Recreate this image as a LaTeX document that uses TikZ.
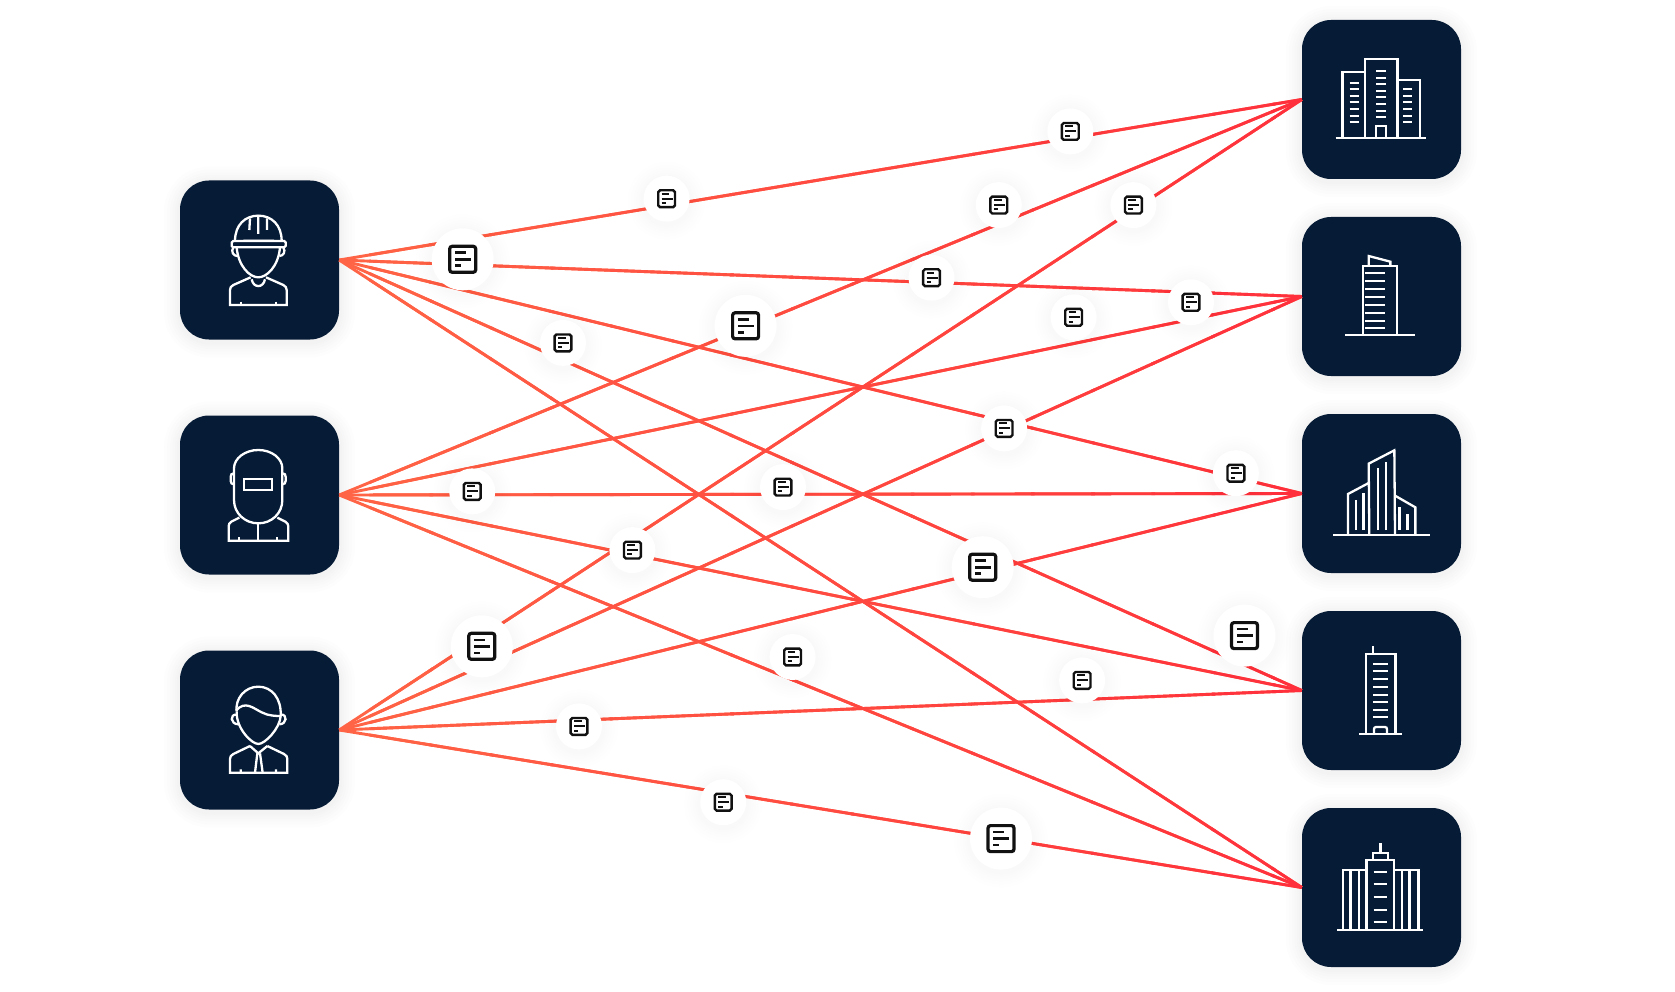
\documentclass[tikz,border=0pt]{standalone}
\usetikzlibrary{calc}
\definecolor{navy}{RGB}{5,27,54}
\definecolor{linkred}{RGB}{255,48,60}
\definecolor{linkorange}{RGB}{255,100,70}
\definecolor{docblack}{RGB}{17,17,17}
\tikzset{
  x=1pt,y=-1pt,
  halo/.style={preaction={draw=black,draw opacity=#1,line width=32pt,transform canvas={yshift=-2pt}},
    preaction={draw=black,draw opacity=#1,line width=26pt,transform canvas={yshift=-2pt}},
    preaction={draw=black,draw opacity=#1,line width=20pt,transform canvas={yshift=-2pt}},
    preaction={draw=black,draw opacity=#1,line width=15pt,transform canvas={yshift=-2pt}},
    preaction={draw=black,draw opacity=#1,line width=10pt,transform canvas={yshift=-2pt}},
    preaction={draw=black,draw opacity=#1,line width=6pt,transform canvas={yshift=-2pt}}},
  tile/.style={fill=navy,minimum size=159pt,inner sep=0pt,rounded corners=29pt,halo=0.007},
  badgebig/.style={circle,fill=white,minimum size=62pt,inner sep=0pt,halo=0.004},
  badgesmall/.style={circle,fill=white,minimum size=46pt,inner sep=0pt,halo=0.004},
  link/.style={line width=2.9pt},
  ico/.style={white,line width=2.3pt,line join=miter},
  zoomed/.style={scale=0.33333},
  bigdoc/.pic={
    \draw[docblack,line width=3.2pt,rounded corners=2.5pt] (-13,-13) rectangle (13,13);
    \draw[docblack,line width=2.6pt] (-7.7,-6.5) -- (3,-6.5) (-7.7,0) -- (8,0) (-7.7,6.5) -- (-1.7,6.5);
  },
  smalldoc/.pic={
    \draw[docblack,line width=2.4pt,rounded corners=1.8pt] (-8.4,-8.4) rectangle (8.4,8.4);
    \draw[docblack,line width=2pt] (-5,-5) -- (2.7,-5) (-5,0) -- (6,0) (-5,4.3) -- (-0.7,4.3);
  },
}
\newcommand{\alllinks}{%
  \foreach \a/\b in {la/ra,la/rb,la/rc,la/rd,la/re,lb/ra,lb/rb,lb/rc,lb/rd,lb/re,lc/ra,lc/rb,lc/rc,lc/rd,lc/re}{%
    \draw[link,draw=linkorange] (\a.east) -- (\b.west);
  }%
  \foreach \k in {1,...,16}{%
    \pgfmathsetmacro{\mixpct}{\k*100/16}%
    \pgfmathsetmacro{\fromt}{(\k-0.5)/16}%
    \pgfmathsetmacro{\tot}{min(1,(\k+0.56)/16)}%
    \foreach \a/\b in {la/ra,la/rb,la/rc,la/rd,la/re,lb/ra,lb/rb,lb/rc,lb/rd,lb/re,lc/ra,lc/rb,lc/rc,lc/rd,lc/re}{%
      \draw[link,draw=linkred!\mixpct!linkorange] ($(\a.east)!\fromt!(\b.west)$) -- ($(\a.east)!\tot!(\b.west)$);
    }%
  }%
}
\begin{document}
\begin{tikzpicture}
\useasboundingbox (0,0) rectangle (1675,992);
\fill[white] (0,0) rectangle (1675,992);
% tiles
\node[tile] (la) at (259.5,260) {};
\node[tile] (lb) at (259.5,495) {};
\node[tile] (lc) at (259.5,730) {};
\node[tile] (ra) at (1381.5,99.5) {};
\node[tile] (rb) at (1381.5,296.5) {};
\node[tile] (rc) at (1381.5,493.5) {};
\node[tile] (rd) at (1381.5,690.5) {};
\node[tile] (re) at (1381.5,887.5) {};
% connectors
\alllinks
% badges
\foreach \n/\p in {bi/{462.7,259.3},bii/{745.6,325.8},biii/{481.8,646.3},biv/{982.7,567.2},bv/{1244.5,635.6},bvi/{1001,838.6}}{
  \node[badgebig] (\n) at (\p) {};
  \pic at (\n) {bigdoc};
}
\foreach \n/\p in {sa/{1070.3,131.4},sb/{666.6,198.7},sc/{998.8,205.1},sd/{1133.4,205.1},se/{931.5,277.7},sf/{1191,302.3},sg/{1073.6,317.3},sh/{563,342.9},si/{1004.1,428.4},sj/{1235.9,473.2},sk/{472.2,491.4},sl/{783,487.1},sm/{632.4,550.1},sn/{792.6,657},so/{1082.1,680.4},sp/{579,726.4},sq/{723.2,802.2}}{
  \node[badgesmall] (\n) at (\p) {};
  \pic at (\n) {smalldoc};
}
% worker
\begin{scope}[shift={(170,170)},zoomed,ico]
\draw (195,213) .. controls (195,165) and (225,137) .. (265,137) .. controls (305,137) and (335,165) .. (335,213);
\draw[rounded corners=1.5pt] (185,213) rectangle (347,232);
\draw (220,212) -- (312,212) (265,135) -- (265,192) (240,145) -- (238,180) (291,145) -- (291,180);
\draw (200,232) .. controls (205,290) and (240,322) .. (265,322) .. controls (290,322) and (325,290) .. (330,232);
\draw (190,232) .. controls (182,245) and (190,258) .. (202,258) (340,232) .. controls (348,245) and (340,258) .. (328,258);
\draw (242,322) -- (190,345) .. controls (183,349) and (180,353) .. (180,360) -- (180,405) -- (350,405) -- (350,360) .. controls (350,353) and (347,349) .. (340,345) -- (288,322);
\draw (245,328) .. controls (250,355) and (280,355) .. (285,328);
\draw (212,395) -- (212,405) (318,395) -- (318,405);
\end{scope}
% welder
\begin{scope}[shift={(170,405)},zoomed,ico]
\draw (192,190) .. controls (192,160) and (225,135) .. (265,135) .. controls (305,135) and (337,160) .. (337,190) -- (337,285) .. controls (337,325) and (305,355) .. (265,355) .. controls (225,355) and (192,325) .. (192,285) -- cycle;
\draw (221,223) rectangle (306,255);
\draw (192,205) .. controls (185,205) and (182,209) .. (182,215) -- (182,228) .. controls (182,234) and (186,238) .. (192,238);
\draw (337,205) .. controls (344,205) and (347,209) .. (347,215) -- (347,228) .. controls (347,234) and (343,238) .. (337,238);
\draw (208,338) -- (184,350) .. controls (178,354) and (176,358) .. (176,364) -- (176,407) -- (355,407) -- (355,364) .. controls (355,358) and (352,354) .. (346,350) -- (322,338);
\draw (265,355) -- (265,407) (208,396) -- (208,407) (322,396) -- (322,407);
\end{scope}
% man
\begin{scope}[shift={(170,640)},zoomed,ico]
\draw (200,215) .. controls (195,175) and (225,140) .. (265,140) .. controls (305,140) and (335,175) .. (332,228);
\draw (198,212) .. controls (225,180) and (250,205) .. (275,217) .. controls (295,228) and (320,228) .. (332,228);
\draw (200,215) .. controls (198,265) and (245,312) .. (265,312) .. controls (285,312) and (330,265) .. (332,228);
\draw (199,224) .. controls (180,222) and (180,252) .. (205,253);
\draw (333,224) .. controls (352,222) and (352,252) .. (328,253);
\draw (240,318) -- (190,342) .. controls (183,346) and (180,350) .. (180,357) -- (180,398) -- (352,398) -- (352,357) .. controls (352,350) and (349,346) .. (342,342) -- (292,318);
\draw (240,318) -- (265,340) -- (292,318);
\draw (262,340) -- (255,398) (270,340) -- (278,398) (212,388) -- (212,398) (318,388) -- (318,398);
\end{scope}
% building 1
\begin{scope}[shift={(1290,10)},zoomed,ico]
\draw (137,384) -- (408,384);
\draw (157,384) -- (157,187) -- (224,187);
\draw (225,384) -- (225,148) -- (322,148) -- (322,384);
\draw (322,211) -- (389,211) -- (389,384);
\draw (257,384) -- (257,348) -- (288,348) -- (288,384);
\foreach \y in {218,238,257,277,297,317,336}{\draw (179,\y) -- (206,\y);}
\foreach \y in {184,204,223,243,262,282,302,322}{\draw (259,\y) -- (287,\y);}
\foreach \y in {238,257,277,297,317,336}{\draw (340,\y) -- (367,\y);}
\end{scope}
% building 2
\begin{scope}[shift={(1290,210)},zoomed,ico]
\draw (166,376) -- (375,376);
\draw (219,376) -- (219,167) -- (320,167) -- (320,376);
\draw (236,167) -- (236,138) -- (301,155) -- (301,167);
\foreach \y in {190,214,238,261,285,308,332,355}{\draw (225,\y) -- (284,\y);}
\end{scope}
% building 3
\begin{scope}[shift={(1290,405)},zoomed,ico]
\draw (130,391) -- (419,391);
\draw (174,391) -- (174,267) -- (236,234);
\draw (238,391) -- (236,176) -- (313,136) -- (315,391);
\draw (315,272) -- (376,307) -- (376,391);
\draw (197,375) -- (197,285) (220,375) -- (220,265) (263,375) -- (263,190) (287,375) -- (287,170) (328,375) -- (328,307) (352,375) -- (352,327);
\end{scope}
% building 4
\begin{scope}[shift={(1290,600)},zoomed,ico]
\draw (208,401) -- (335,401);
\draw (227,401) -- (227,162) -- (316,162) -- (316,401);
\draw (248,162) -- (248,138);
\foreach \y in {191,214,238,260,284,307,330,352}{\draw (250,\y) -- (293,\y);}
\draw (252,401) -- (252,388) .. controls (252,384) and (254,381) .. (258,381) -- (285,381) .. controls (289,381) and (291,384) .. (291,388) -- (291,401);
\end{scope}
% building 5
\begin{scope}[shift={(1290,800)},zoomed,ico]
\draw (142,391) -- (399,391);
\draw (229,391) -- (229,179) -- (312,179) -- (312,391);
\draw (248,179) -- (248,158) -- (294,158) -- (294,179);
\draw (271,158) -- (271,130);
\draw (229,209) -- (158,209) -- (158,391) (312,209) -- (385,209) -- (385,391);
\foreach \xx in {181,207,335,358}{\draw (\xx,209) -- (\xx,391);}
\foreach \y in {215,253,291,329,367}{\draw (251,\y) -- (290,\y);}
\end{scope}
\end{tikzpicture}
\end{document}
